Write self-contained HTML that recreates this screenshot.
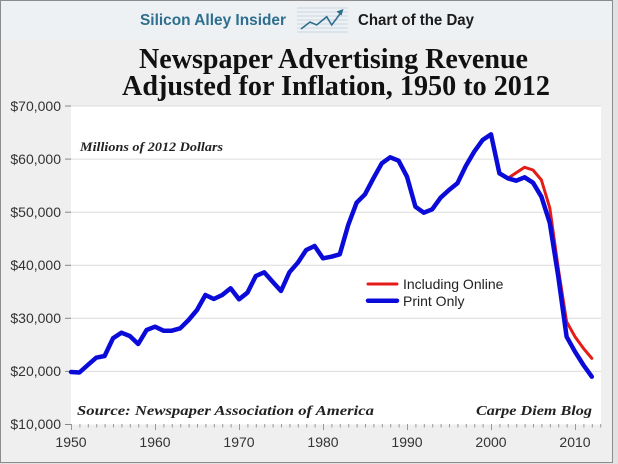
<!DOCTYPE html>
<html>
<head>
<meta charset="utf-8">
<style>
  html, body { margin: 0; padding: 0; background: #e4e4e4; }
  svg { display: block; }
</style>
</head>
<body>
<svg width="618" height="464" viewBox="0 0 618 464" xmlns="http://www.w3.org/2000/svg">
  <!-- outer background -->
  <rect x="0" y="0" width="618" height="464" fill="#e2e2e2"/>
  <rect x="0.5" y="0.5" width="612" height="462" fill="#efefef" stroke="#8c8c8c" stroke-width="1"/>
  <rect x="1" y="1" width="611" height="38" fill="#edf1f4"/>

  <!-- header -->
  <text x="140" y="25" font-family="Liberation Sans, sans-serif" font-weight="bold" font-size="16" fill="#2e6e8e" textLength="146" lengthAdjust="spacingAndGlyphs">Silicon Alley Insider</text>
  <g>
    <g stroke="#c9d6e0" stroke-width="1">
      <line x1="297" y1="8" x2="348" y2="8"/>
      <line x1="297" y1="12" x2="348" y2="12"/>
      <line x1="297" y1="16" x2="348" y2="16"/>
      <line x1="297" y1="20" x2="348" y2="20"/>
      <line x1="297" y1="24" x2="348" y2="24"/>
      <line x1="297" y1="28" x2="348" y2="28"/>
      <line x1="297" y1="32" x2="348" y2="32"/>
    </g>
    <polyline points="301,29 310,22 316.7,25 326.7,16.7 331.7,25 341,12.5" fill="none" stroke="#2e6e8e" stroke-width="1.6"/>
    <polygon points="343.5,9 336.5,11.5 341.5,15.5" fill="#2e6e8e"/>
  </g>
  <text x="358" y="25" font-family="Liberation Sans, sans-serif" font-weight="bold" font-size="16" fill="#1b1b1b" textLength="116" lengthAdjust="spacingAndGlyphs">Chart of the Day</text>

  <!-- title -->
  <text x="139" y="68" font-family="Liberation Serif, serif" font-weight="bold" font-size="29" fill="#111" textLength="389" lengthAdjust="spacingAndGlyphs">Newspaper Advertising Revenue</text>
  <text x="122" y="95" font-family="Liberation Serif, serif" font-weight="bold" font-size="29" fill="#111" textLength="428" lengthAdjust="spacingAndGlyphs">Adjusted for Inflation, 1950 to 2012</text>

  <!-- plot area -->
  <rect x="71" y="106" width="530" height="318.5" fill="#ffffff"/>
  <g stroke="#dcdcdc" stroke-width="1">
    <line x1="71" y1="106" x2="601" y2="106"/>
    <line x1="71" y1="159.1" x2="601" y2="159.1"/>
    <line x1="71" y1="212.2" x2="601" y2="212.2"/>
    <line x1="71" y1="265.3" x2="601" y2="265.3"/>
    <line x1="71" y1="318.3" x2="601" y2="318.3"/>
    <line x1="71" y1="371.4" x2="601" y2="371.4"/>
  </g>

  <!-- y ticks -->
  <g stroke="#888" stroke-width="1">
    <line x1="65" y1="106" x2="71" y2="106"/>
    <line x1="65" y1="159.1" x2="71" y2="159.1"/>
    <line x1="65" y1="212.2" x2="71" y2="212.2"/>
    <line x1="65" y1="265.3" x2="71" y2="265.3"/>
    <line x1="65" y1="318.3" x2="71" y2="318.3"/>
    <line x1="65" y1="371.4" x2="71" y2="371.4"/>
    <line x1="65" y1="424.5" x2="71" y2="424.5"/>
  </g>

  <!-- y labels -->
  <g font-family="Liberation Sans, sans-serif" font-size="14" fill="#333" text-anchor="end">
    <text x="61" y="111">$70,000</text>
    <text x="61" y="164">$60,000</text>
    <text x="61" y="217">$50,000</text>
    <text x="61" y="270">$40,000</text>
    <text x="61" y="323">$30,000</text>
    <text x="61" y="376">$20,000</text>
    <text x="61" y="429">$10,000</text>
  </g>

  <!-- x ticks -->
  <g stroke="#999" stroke-width="1">
    <line x1="71.5" y1="424" x2="71.5" y2="430"/>
    <line x1="79.9" y1="424" x2="79.9" y2="427.5"/>
    <line x1="88.3" y1="424" x2="88.3" y2="427.5"/>
    <line x1="96.7" y1="424" x2="96.7" y2="427.5"/>
    <line x1="105.1" y1="424" x2="105.1" y2="427.5"/>
    <line x1="113.5" y1="424" x2="113.5" y2="427.5"/>
    <line x1="121.9" y1="424" x2="121.9" y2="427.5"/>
    <line x1="130.3" y1="424" x2="130.3" y2="427.5"/>
    <line x1="138.7" y1="424" x2="138.7" y2="427.5"/>
    <line x1="147.1" y1="424" x2="147.1" y2="427.5"/>
    <line x1="155.5" y1="424" x2="155.5" y2="430"/>
    <line x1="163.9" y1="424" x2="163.9" y2="427.5"/>
    <line x1="172.3" y1="424" x2="172.3" y2="427.5"/>
    <line x1="180.7" y1="424" x2="180.7" y2="427.5"/>
    <line x1="189.1" y1="424" x2="189.1" y2="427.5"/>
    <line x1="197.5" y1="424" x2="197.5" y2="427.5"/>
    <line x1="205.9" y1="424" x2="205.9" y2="427.5"/>
    <line x1="214.3" y1="424" x2="214.3" y2="427.5"/>
    <line x1="222.7" y1="424" x2="222.7" y2="427.5"/>
    <line x1="231.1" y1="424" x2="231.1" y2="427.5"/>
    <line x1="239.5" y1="424" x2="239.5" y2="430"/>
    <line x1="247.9" y1="424" x2="247.9" y2="427.5"/>
    <line x1="256.3" y1="424" x2="256.3" y2="427.5"/>
    <line x1="264.7" y1="424" x2="264.7" y2="427.5"/>
    <line x1="273.1" y1="424" x2="273.1" y2="427.5"/>
    <line x1="281.5" y1="424" x2="281.5" y2="427.5"/>
    <line x1="289.9" y1="424" x2="289.9" y2="427.5"/>
    <line x1="298.3" y1="424" x2="298.3" y2="427.5"/>
    <line x1="306.7" y1="424" x2="306.7" y2="427.5"/>
    <line x1="315.1" y1="424" x2="315.1" y2="427.5"/>
    <line x1="323.5" y1="424" x2="323.5" y2="430"/>
    <line x1="331.9" y1="424" x2="331.9" y2="427.5"/>
    <line x1="340.3" y1="424" x2="340.3" y2="427.5"/>
    <line x1="348.7" y1="424" x2="348.7" y2="427.5"/>
    <line x1="357.1" y1="424" x2="357.1" y2="427.5"/>
    <line x1="365.5" y1="424" x2="365.5" y2="427.5"/>
    <line x1="373.9" y1="424" x2="373.9" y2="427.5"/>
    <line x1="382.3" y1="424" x2="382.3" y2="427.5"/>
    <line x1="390.7" y1="424" x2="390.7" y2="427.5"/>
    <line x1="399.1" y1="424" x2="399.1" y2="427.5"/>
    <line x1="407.5" y1="424" x2="407.5" y2="430"/>
    <line x1="415.9" y1="424" x2="415.9" y2="427.5"/>
    <line x1="424.3" y1="424" x2="424.3" y2="427.5"/>
    <line x1="432.7" y1="424" x2="432.7" y2="427.5"/>
    <line x1="441.1" y1="424" x2="441.1" y2="427.5"/>
    <line x1="449.5" y1="424" x2="449.5" y2="427.5"/>
    <line x1="457.9" y1="424" x2="457.9" y2="427.5"/>
    <line x1="466.3" y1="424" x2="466.3" y2="427.5"/>
    <line x1="474.7" y1="424" x2="474.7" y2="427.5"/>
    <line x1="483.1" y1="424" x2="483.1" y2="427.5"/>
    <line x1="491.5" y1="424" x2="491.5" y2="430"/>
    <line x1="499.9" y1="424" x2="499.9" y2="427.5"/>
    <line x1="508.3" y1="424" x2="508.3" y2="427.5"/>
    <line x1="516.7" y1="424" x2="516.7" y2="427.5"/>
    <line x1="525.1" y1="424" x2="525.1" y2="427.5"/>
    <line x1="533.5" y1="424" x2="533.5" y2="427.5"/>
    <line x1="541.9" y1="424" x2="541.9" y2="427.5"/>
    <line x1="550.3" y1="424" x2="550.3" y2="427.5"/>
    <line x1="558.7" y1="424" x2="558.7" y2="427.5"/>
    <line x1="567.1" y1="424" x2="567.1" y2="427.5"/>
    <line x1="575.5" y1="424" x2="575.5" y2="430"/>
    <line x1="583.9" y1="424" x2="583.9" y2="427.5"/>
    <line x1="592.3" y1="424" x2="592.3" y2="427.5"/>
    <line x1="600.7" y1="424" x2="600.7" y2="427.5"/>
  </g>

  <!-- x labels -->
  <g font-family="Liberation Sans, sans-serif" font-size="14" fill="#333" text-anchor="middle">
    <text x="71" y="447">1950</text>
    <text x="155" y="447">1960</text>
    <text x="239" y="447">1970</text>
    <text x="323" y="447">1980</text>
    <text x="407" y="447">1990</text>
    <text x="491" y="447">2000</text>
    <text x="575" y="447">2010</text>
  </g>

  <!-- annotations -->
  <text x="80" y="151" font-family="Liberation Serif, serif" font-weight="bold" font-style="italic" font-size="13" fill="#222" textLength="143" lengthAdjust="spacingAndGlyphs">Millions of 2012 Dollars</text>
  <text x="77" y="415" font-family="Liberation Serif, serif" font-weight="bold" font-style="italic" font-size="14" fill="#222" textLength="297" lengthAdjust="spacingAndGlyphs">Source: Newspaper Association of America</text>
  <text x="476" y="415" font-family="Liberation Serif, serif" font-weight="bold" font-style="italic" font-size="14" fill="#222" textLength="116" lengthAdjust="spacingAndGlyphs">Carpe Diem Blog</text>

  <!-- red series: including online -->
  <polyline fill="none" stroke="#e41b17" stroke-width="3" stroke-linejoin="round" stroke-linecap="round"
    points="507.8,178.3 516.2,172.7 524.6,167.3 533,170 541.4,180 549.8,208 558.2,268 566.6,321.7 575,336.7 583.4,348.3 591.8,358.3"/>

  <!-- blue series: print only -->
  <polyline fill="none" stroke="#0b0bd9" stroke-width="4.5" stroke-linejoin="round" stroke-linecap="round"
    points="71,372 79.4,372.5 87.8,365 96.2,357.7 104.6,356 113,338.3 121.4,332.7 129.8,336 138.2,344 146.6,330 155,326.7 163.4,330.7 171.8,330.7 180.2,328.3 188.6,320 197,310 205.4,295 213.8,299 222.2,295 230.6,288.3 239,299.3 247.4,292.7 255.8,276 264.2,272.3 272.6,281.7 281,291 289.4,272.3 297.8,262.7 306.2,250 314.6,246 323,258.3 331.4,256.7 339.8,254.3 348.2,225 356.6,202.7 365,194.3 373.4,178.3 381.8,163.3 390.2,157.3 398.6,160.7 407,176.7 415.4,206.7 423.8,212.7 432.2,209.3 440.6,197.7 449,190 457.4,183.3 465.8,166 474.2,151.7 482.6,140 491,134.3 499.4,173.3 507.8,178.3 516.2,180.7 524.6,177.3 533,182.7 541.4,196.7 549.8,223 558.2,276 566.6,336.7 575,351.7 583.4,365 591.8,376.7"/>

  <!-- legend -->
  <line x1="368" y1="284" x2="397" y2="284" stroke="#e41b17" stroke-width="3" stroke-linecap="round"/>
  <line x1="368" y1="300.7" x2="397" y2="300.7" stroke="#0b0bd9" stroke-width="4.5" stroke-linecap="round"/>
  <text x="403" y="289" font-family="Liberation Sans, sans-serif" font-size="14" fill="#222">Including Online</text>
  <text x="403" y="306" font-family="Liberation Sans, sans-serif" font-size="14" fill="#222">Print Only</text>
</svg>
</body>
</html>
